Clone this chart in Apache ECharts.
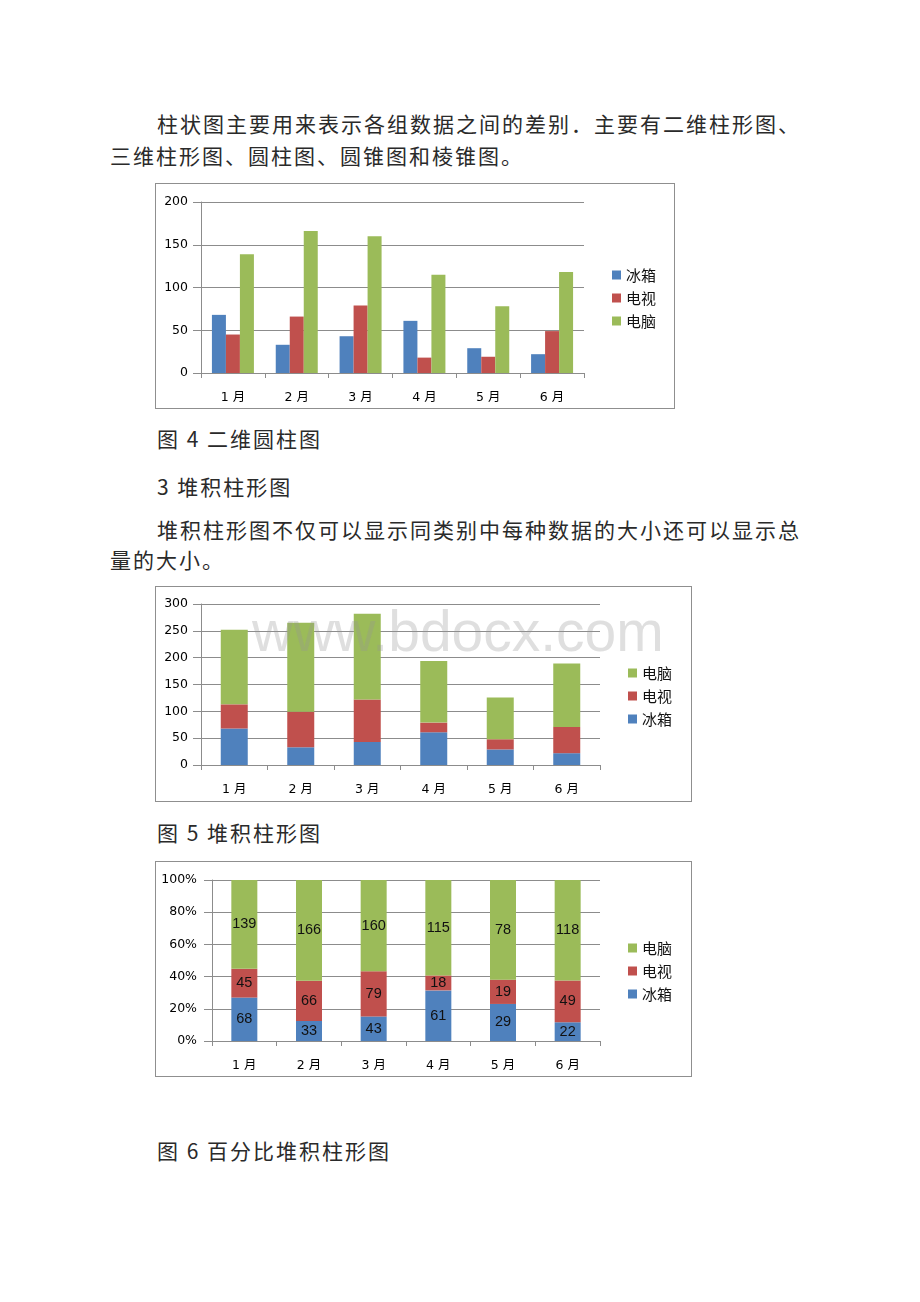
<!DOCTYPE html>
<html>
<head>
<meta charset="utf-8">
<script src="https://cdn.jsdelivr.net/npm/echarts@6/dist/echarts.min.js"></script>
<style>
  html, body { margin:0; padding:0; background:#fff; }
  body { width:920px; height:1302px; position:relative; overflow:hidden; }
  .t { position:absolute; white-space:nowrap; font-family:"Noto Sans CJK SC", sans-serif; font-size:21px; letter-spacing:2px; line-height:30px; height:30px; color:#2a2a2a; }
  .box { position:absolute; box-sizing:border-box; border:1px solid #8f8f8f; background:#fff; }
  .chart { position:absolute; left:0; top:0; }
  .wm { position:absolute; white-space:nowrap; font-family:"Liberation Sans", Arial, sans-serif; font-size:57px; line-height:57px; color:rgba(150,150,150,0.3); pointer-events:none; z-index:10; }
</style>
</head>
<body>
<div class="t" style="left:157px; top:108px;">柱状图主要用来表示各组数据之间的差别．主要有二维柱形图、</div>
<div class="t" style="left:110px; top:140px;">三维柱形图、圆柱图、圆锥图和棱锥图。</div>

<div class="box" style="left:155px; top:183px; width:520px; height:226px;"><div id="c1" class="chart" style="width:518px; height:224px;"></div></div>

<div class="t" style="left:157px; top:423px;">图 4 二维圆柱图</div>
<div class="t" style="left:157px; top:471px;">3 堆积柱形图</div>
<div class="t" style="left:157px; top:514px;">堆积柱形图不仅可以显示同类别中每种数据的大小还可以显示总</div>
<div class="t" style="left:110px; top:544px;">量的大小。</div>

<div class="box" style="left:155px; top:586px; width:537px; height:216px;"><div id="c2" class="chart" style="width:535px; height:214px;"></div></div>
<div class="wm" style="left:252px; top:603px;">www.bdocx.com</div>

<div class="t" style="left:157px; top:817px;">图 5 堆积柱形图</div>

<div class="box" style="left:155px; top:861px; width:537px; height:216px;"><div id="c3" class="chart" style="width:535px; height:214px;"></div></div>

<div class="t" style="left:157px; top:1135px;">图 6 百分比堆积柱形图</div>

<script>
// ---- data ----
const months = ['1 月', '2 月', '3 月', '4 月', '5 月', '6 月'];
const seriesNames = ['冰箱', '电视', '电脑'];
const fridge = [68, 33, 43, 61, 29, 22];
const tv = [45, 66, 79, 18, 19, 49];
const pc = [139, 166, 160, 115, 78, 118];
const axis1 = { min: 0, max: 200, interval: 50 };
const axis2 = { min: 0, max: 300, interval: 50 };
const axis3 = { min: 0, max: 100, interval: 20 };

// ---- styles ----
const colors = ['#4F81BD', '#C0504D', '#9BBB59'];
const gridColor = '#8c8c8c';
const labelFont = "'DejaVu Sans', 'Noto Sans CJK SC', sans-serif";
const cjkFont = "'Noto Sans CJK SC', sans-serif";
const raw = [fridge, tv, pc];

function xAxis() {
  return {
    type: 'category', data: months, boundaryGap: true,
    axisLine: { show: true, lineStyle: { color: gridColor, width: 1 } },
    axisTick: { show: true, length: 5, lineStyle: { color: gridColor } },
    axisLabel: { margin: 18, fontSize: 12.5, color: '#000', fontFamily: labelFont }
  };
}
function yAxis(a, margin, fmt) {
  return {
    type: 'value', min: a.min, max: a.max, interval: a.interval,
    axisLine: { show: true, lineStyle: { color: gridColor, width: 1 } },
    axisTick: { show: true, length: 8, lineStyle: { color: gridColor } },
    splitLine: { show: true, lineStyle: { color: gridColor, width: 1 } },
    axisLabel: { margin: margin, fontSize: 12.5, color: '#000', fontFamily: labelFont, formatter: fmt || '{value}' }
  };
}
function legend(left, top, order) {
  return {
    orient: 'vertical', left: left, top: top, padding: 0,
    icon: 'rect', itemWidth: 9, itemHeight: 9, itemGap: 7,
    data: order,
    textStyle: { fontSize: 15, lineHeight: 16, color: '#111', fontFamily: cjkFont }
  };
}

// Chart 1: clustered columns
const c1 = echarts.init(document.getElementById('c1'));
c1.setOption({
  animation: false,
  color: colors,
  grid: { left: 45, right: 90, top: 18, bottom: 35 },
  legend: legend(456, 83, ['冰箱', '电视', '电脑']),
  xAxis: xAxis(),
  yAxis: yAxis(axis1, 13),
  series: raw.map((d, i) => ({ name: seriesNames[i], type: 'bar', data: d, barWidth: 14, barGap: '0%' }))
});

// Chart 2: stacked columns
const c2 = echarts.init(document.getElementById('c2'));
c2.setOption({
  animation: false,
  color: colors,
  grid: { left: 45, right: 91, top: 17, bottom: 36 },
  legend: legend(472, 78, ['电脑', '电视', '冰箱']),
  xAxis: xAxis(),
  yAxis: yAxis(axis2, 13),
  series: raw.map((d, i) => ({ name: seriesNames[i], type: 'bar', stack: 'total', data: d, barWidth: 27 }))
});

// Chart 3: 100% stacked columns
const totals = months.map((m, j) => fridge[j] + tv[j] + pc[j]);
const c3 = echarts.init(document.getElementById('c3'));
c3.setOption({
  animation: false,
  color: colors,
  grid: { left: 56, right: 91, top: 18, bottom: 35 },
  legend: legend(472, 78, ['电脑', '电视', '冰箱']),
  xAxis: xAxis(),
  yAxis: yAxis(axis3, 15, '{value}%'),
  series: raw.map((d, i) => ({
    name: seriesNames[i], type: 'bar', stack: 'pct', barWidth: 26,
    data: d.map((v, j) => v / totals[j] * 100),
    label: {
      show: true, position: 'inside', fontSize: 14.5, color: '#111',
      fontFamily: "'Liberation Sans', Arial, sans-serif",
      formatter: p => String(raw[p.seriesIndex][p.dataIndex])
    }
  }))
});
</script>
</body>
</html>
